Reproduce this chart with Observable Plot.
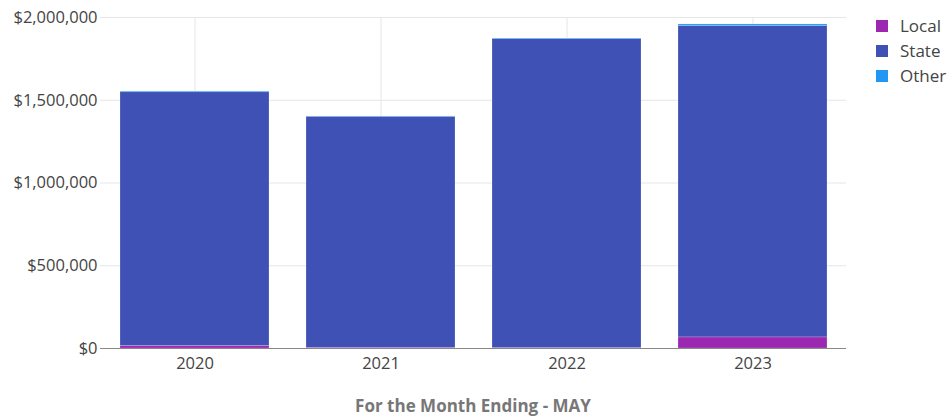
<!DOCTYPE html>
<html><head><meta charset="utf-8">
<script src="https://cdn.jsdelivr.net/npm/d3@7"></script>
<script src="https://cdn.jsdelivr.net/npm/@observablehq/plot@0.6"></script>
<style>
body{margin:0;background:#fff;font-family:"Open Sans",sans-serif;}
#wrap{position:relative;width:948px;height:417px;}
#legend{position:absolute;left:876px;top:13px;font-size:17px;color:#444;}
#legend div{display:flex;align-items:center;height:25px;}
#legend span.sw{display:inline-block;width:12px;height:12px;margin-right:12px;}
#title{position:absolute;left:100px;width:746px;top:394px;text-align:center;font-weight:bold;font-size:17px;color:#777;}
</style></head>
<body><div id="wrap"><div id="chart"></div><div id="legend"></div><div id="title">For the Month Ending - MAY</div></div>
<script>
const years = ["2020","2021","2022","2023"];
const series = ["Local","State","Other"];
const colors = ["#9c27b0","#3f51b5","#2196f3"];
const local = [15000, 4000, 3000, 67000];
const state = [1533000, 1396000, 1866000, 1881000];
const other = [5000, 2000, 4000, 10000];
const yTicks = [0, 500000, 1000000, 1500000, 2000000];

const rows = [];
years.forEach((y,i)=>{
  rows.push({year:y, series:"Local", value:local[i]});
  rows.push({year:y, series:"State", value:state[i]});
  rows.push({year:y, series:"Other", value:other[i]});
});

const chart = Plot.plot({
  width: 948, height: 380,
  marginLeft: 100, marginRight: 102, marginTop: 17, marginBottom: 32,
  style: {fontFamily: "'Open Sans', sans-serif", fontSize: "16.5px", color: "#444", background: "#fff"},
  x: {domain: years, paddingInner: 0.2, paddingOuter: 0.1, label: null},
  y: {domain: [0, 2000000], label: null},
  color: {domain: series, range: colors},
  marks: [
    Plot.gridY(yTicks, {stroke: "#e6e6e6", strokeOpacity: 1}),
    Plot.gridX(years, {stroke: "#e6e6e6", strokeOpacity: 1}),
    Plot.barY(rows, Plot.stackY({x: "year", y: "value", fill: "series", order: series, stroke: "#fff", strokeOpacity: 0.4, strokeWidth: 0.5})),
    Plot.ruleY([0], {stroke: "#888"}),
    Plot.axisY({ticks: yTicks, tickFormat: d3.format("$,"), tickSize: 0, tickPadding: 3, fontSize: 16.5}),
    Plot.axisX({tickSize: 0, tickPadding: 9, fontSize: 16.5})
  ]
});
document.getElementById("chart").appendChild(chart);

const lg = document.getElementById("legend");
series.forEach((s,i)=>{
  const d = document.createElement("div");
  d.innerHTML = `<span class="sw" style="background:${colors[i]}"></span>${s}`;
  lg.appendChild(d);
});
</script></body></html>
